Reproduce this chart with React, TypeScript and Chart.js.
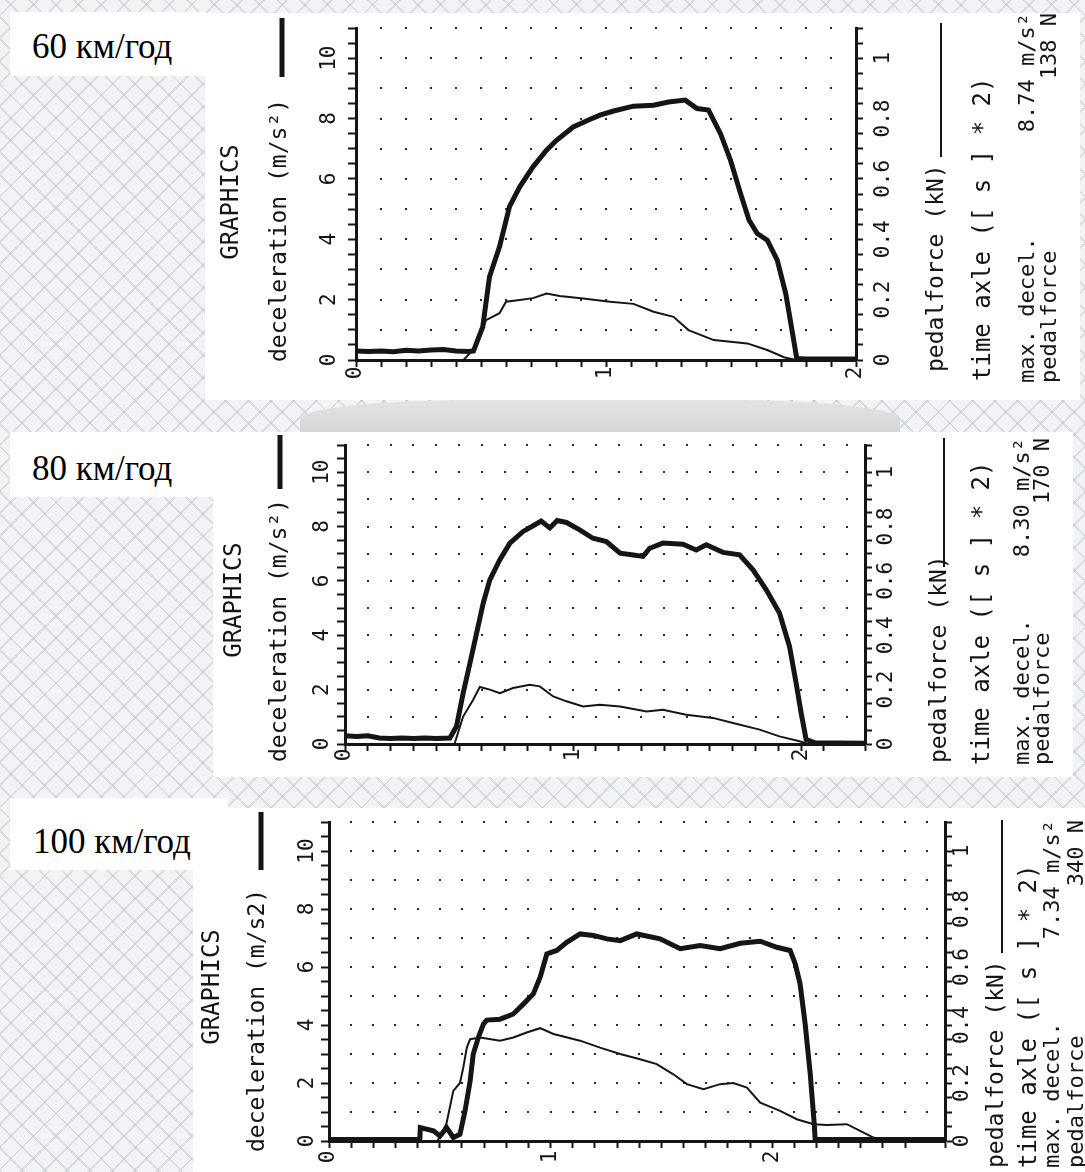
import React, { useEffect, useRef } from 'react';
import { Chart, registerables } from 'chart.js';

Chart.register(...registerables);

const PAGE_W = 1085;
const PAGE_H = 1172;
const INK = '#151515';
const MONO = '"DejaVu Sans Mono", "Liberation Mono", monospace';
const SERIF = '"Liberation Serif", "Times New Roman", serif';

// ---------- shared tick labels ----------
const LEFT_TICK_VALUES = [0, 2, 4, 6, 8, 10];
const LEFT_TICK_LABELS = ['0', '2', '4', '6', '8', '10'];
const RIGHT_TICK_VALUES = [0, 0.2, 0.4, 0.6, 0.8, 1];
const RIGHT_TICK_LABELS = ['0', '0.2', '0.4', '0.6', '0.8', '1'];
const X_TICK_VALUES = [0, 1, 2];
const X_TICK_LABELS = ['0', '1', '2'];
const DOT_ROWS = [1, 2, 3, 4, 5, 6, 7, 8, 9, 10, 11];

const SPEED_LABELS = ['60 км/год', '80 км/год', '100 км/год'];
const MAX_DECEL = ['8.74', '8.30', '7.34'];
const PEDAL_FORCE_N = ['138', '170', '340'];
const DECEL_TITLES = ['deceleration (m/s²)', 'deceleration (m/s²)', 'deceleration (m/s2)'];

// ---------- panel 1 : 60 km/h ----------
const P1_DECEL_TIME = [0, 0.05, 0.1, 0.15, 0.2, 0.25, 0.3, 0.35, 0.4, 0.45, 0.47, 0.507, 0.534, 0.574, 0.614, 0.655, 0.708, 0.762, 0.802, 0.869, 0.93, 0.976, 1.03, 1.11, 1.19, 1.25, 1.317, 1.364, 1.41, 1.458, 1.498, 1.538, 1.572, 1.605, 1.645, 1.685, 1.719, 1.746, 1.763, 1.8, 1.9, 2.0];
const P1_DECEL = [0.3, 0.28, 0.3, 0.27, 0.32, 0.3, 0.33, 0.35, 0.3, 0.28, 0.3, 1.1, 2.76, 3.75, 5.08, 5.74, 6.4, 6.95, 7.28, 7.72, 7.95, 8.11, 8.25, 8.41, 8.44, 8.55, 8.61, 8.33, 8.28, 7.5, 6.62, 5.52, 4.64, 4.19, 3.97, 3.31, 2.2, 0.89, 0.05, 0.03, 0.03, 0.03];
const P1_PEDAL_TIME = [0, 0.43, 0.48, 0.52, 0.574, 0.6, 0.655, 0.708, 0.762, 0.815, 0.909, 1.016, 1.11, 1.19, 1.27, 1.33, 1.431, 1.565, 1.645, 1.712, 1.76, 2.0];
const P1_PEDAL_KN = [0, 0, 0.044, 0.132, 0.155, 0.193, 0.199, 0.205, 0.22, 0.212, 0.204, 0.193, 0.186, 0.16, 0.143, 0.099, 0.066, 0.055, 0.033, 0.009, 0, 0];

// ---------- panel 2 : 80 km/h ----------
const P2_DECEL_TIME = [0, 0.05, 0.1, 0.15, 0.2, 0.25, 0.3, 0.35, 0.4, 0.46, 0.489, 0.518, 0.548, 0.577, 0.606, 0.635, 0.679, 0.723, 0.781, 0.825, 0.86, 0.898, 0.93, 0.971, 1.029, 1.087, 1.146, 1.206, 1.264, 1.307, 1.336, 1.394, 1.482, 1.54, 1.584, 1.657, 1.73, 1.789, 1.847, 1.905, 1.949, 1.978, 2.0, 2.022, 2.06, 2.28];
const P2_DECEL = [0.3, 0.28, 0.3, 0.22, 0.2, 0.22, 0.2, 0.22, 0.2, 0.22, 0.65, 1.87, 2.98, 4.08, 5.18, 6.04, 6.78, 7.39, 7.82, 8.03, 8.2, 7.95, 8.22, 8.15, 7.88, 7.57, 7.45, 7.02, 6.95, 6.9, 7.2, 7.39, 7.35, 7.14, 7.33, 7.05, 6.96, 6.41, 5.67, 4.82, 3.59, 2.24, 1.14, 0.16, 0.05, 0.03];
const P2_PEDAL_TIME = [0, 0.48, 0.518, 0.562, 0.591, 0.635, 0.679, 0.737, 0.81, 0.854, 0.913, 0.971, 1.044, 1.117, 1.206, 1.322, 1.394, 1.496, 1.613, 1.701, 1.818, 1.905, 1.993, 2.03, 2.28];
const P2_PEDAL_KN = [0, 0, 0.101, 0.163, 0.21, 0.2, 0.187, 0.206, 0.218, 0.212, 0.175, 0.157, 0.138, 0.144, 0.138, 0.12, 0.126, 0.108, 0.096, 0.077, 0.053, 0.028, 0.01, 0, 0];

// ---------- panel 3 : 100 km/h ----------
const P3_DECEL_TIME = [0, 0.2, 0.41, 0.412, 0.471, 0.501, 0.531, 0.561, 0.591, 0.614, 0.637, 0.651, 0.674, 0.697, 0.712, 0.772, 0.832, 0.877, 0.922, 0.953, 0.983, 1.028, 1.073, 1.133, 1.193, 1.254, 1.314, 1.389, 1.494, 1.585, 1.675, 1.765, 1.856, 1.946, 2.021, 2.081, 2.104, 2.126, 2.149, 2.172, 2.19, 2.194, 2.4, 2.78];
const P3_DECEL = [0.05, 0.05, 0.05, 0.46, 0.35, 0.17, 0.46, 0.12, 0.23, 1.04, 2.07, 3.0, 3.57, 4.03, 4.17, 4.2, 4.38, 4.72, 5.07, 5.65, 6.45, 6.57, 6.85, 7.14, 7.09, 6.97, 6.91, 7.14, 6.97, 6.63, 6.74, 6.63, 6.82, 6.89, 6.68, 6.57, 6.11, 5.42, 4.03, 2.3, 0.58, 0.05, 0.05, 0.05];
const P3_PEDAL_TIME = [0, 0.49, 0.5, 0.53, 0.561, 0.591, 0.606, 0.622, 0.637, 0.682, 0.772, 0.832, 0.892, 0.953, 1.013, 1.133, 1.223, 1.314, 1.404, 1.479, 1.554, 1.615, 1.69, 1.765, 1.825, 1.886, 1.946, 2.036, 2.111, 2.187, 2.247, 2.337, 2.397, 2.457, 2.518, 2.78];
const P3_PEDAL_KN = [0, 0, 0.015, 0.06, 0.173, 0.2, 0.253, 0.322, 0.351, 0.357, 0.346, 0.357, 0.374, 0.389, 0.369, 0.346, 0.322, 0.3, 0.282, 0.265, 0.23, 0.196, 0.179, 0.196, 0.2, 0.184, 0.132, 0.104, 0.075, 0.058, 0.055, 0.058, 0.035, 0.012, 0, 0];

// ---------- layout (page coordinates) ----------
const PANELS = [
  {
    canvasTop: 0, canvasH: 400,
    area: { left: 356, right: 856, top: 28, bottom: 360 }, xMax: 2,
    decelTime: P1_DECEL_TIME, decel: P1_DECEL, pedalTime: P1_PEDAL_TIME, pedal: P1_PEDAL_KN,
    idx: 0,
    graphics: { x: 232, y: 202 },
    decelTitle: { x: 280, y: 362 }, decelBar: { x: 282, y1: 18, y2: 77 },
    leftTickX: 330, xTickY: 373, rightTickX: 884,
    pedalTitle: { x: 937, y: 372 }, pedalLine: { x: 941, y1: 23, y2: 157 },
    timeAxle: { x: 984, y: 381 },
    stat1X: 1028, stat2X: 1050, statY: 383, statTop: 13,
  },
  {
    canvasTop: 400, canvasH: 390,
    area: { left: 345, right: 865, top: 445, bottom: 744 }, xMax: 2.28,
    decelTime: P2_DECEL_TIME, decel: P2_DECEL, pedalTime: P2_PEDAL_TIME, pedal: P2_PEDAL_KN,
    idx: 1,
    graphics: { x: 235, y: 600 },
    decelTitle: { x: 280, y: 762 }, decelBar: { x: 280, y1: 435, y2: 489 },
    leftTickX: 323, xTickY: 755, rightTickX: 887,
    pedalTitle: { x: 940, y: 763 }, pedalLine: { x: 944, y1: 438, y2: 567 },
    timeAxle: { x: 983, y: 765 },
    stat1X: 1023, stat2X: 1043, statY: 765, statTop: 438,
  },
  {
    canvasTop: 790, canvasH: 382,
    area: { left: 329, right: 945, top: 822, bottom: 1141 }, xMax: 2.78,
    decelTime: P3_DECEL_TIME, decel: P3_DECEL, pedalTime: P3_PEDAL_TIME, pedal: P3_PEDAL_KN,
    idx: 2,
    graphics: { x: 213, y: 987 },
    decelTitle: { x: 258, y: 1152 }, decelBar: { x: 261, y1: 812, y2: 870 },
    leftTickX: 308, xTickY: 1157, rightTickX: 963,
    pedalTitle: { x: 997, y: 1168 }, pedalLine: { x: 1002, y1: 820, y2: 953 },
    timeAxle: { x: 1030, y: 1168 },
    stat1X: 1053, stat2X: 1077, statY: 1168, statTop: 820,
  },
];

const WHITE_RECTS = [
  { left: 205, top: 13, width: 875, height: 387 },
  { left: 213, top: 432, width: 860, height: 345 },
  { left: 193, top: 808, width: 892, height: 364 },
];
const LABEL_BOXES = [
  { left: 10, top: 12, width: 195, height: 64, textLeft: 22, baseline: 58 },
  { left: 10, top: 432, width: 203, height: 65, textLeft: 22, baseline: 480 },
  { left: 10, top: 798, width: 218, height: 72, textLeft: 23, baseline: 853 },
];

function rotText(ctx: CanvasRenderingContext2D, text: string, x: number, y: number, align: CanvasTextAlign, font: string) {
  ctx.save();
  ctx.translate(x, y);
  ctx.rotate(-Math.PI / 2);
  ctx.font = font;
  ctx.fillStyle = INK;
  ctx.textAlign = align;
  ctx.textBaseline = 'middle';
  ctx.fillText(text, 0, 0);
  ctx.restore();
}

function makePlugin(cfg: any) {
  const T = (y: number) => y - cfg.canvasTop;
  return {
    id: 'panelDecor' + cfg.idx,
    beforeDatasetsDraw(chart: any) {
      const ctx = chart.ctx as CanvasRenderingContext2D;
      const xs = chart.scales.x;
      const ys = chart.scales.y;
      ctx.save();
      ctx.fillStyle = '#2b2b2b';
      for (let i = 1; i / 10 < cfg.xMax - 0.02; i++) {
        const px = Math.round(xs.getPixelForValue(i / 10));
        for (const v of DOT_ROWS) {
          const py = Math.round(ys.getPixelForValue(v));
          ctx.fillRect(px - 1, py - 1, 2, 2);
        }
      }
      ctx.restore();
    },
    afterDraw(chart: any) {
      const ctx = chart.ctx as CanvasRenderingContext2D;
      const xs = chart.scales.x;
      const ys = chart.scales.y;
      const y1 = chart.scales.y1;
      const tickFont = `21px ${MONO}`;
      const titleFont = `23px ${MONO}`;
      const statFont = `22px ${MONO}`;

      rotText(ctx, 'GRAPHICS', cfg.graphics.x, T(cfg.graphics.y), 'center', `24px ${MONO}`);
      rotText(ctx, DECEL_TITLES[cfg.idx], cfg.decelTitle.x, T(cfg.decelTitle.y), 'left', titleFont);
      ctx.fillStyle = INK;
      ctx.fillRect(cfg.decelBar.x - 2.5, T(cfg.decelBar.y1), 5, cfg.decelBar.y2 - cfg.decelBar.y1);

      LEFT_TICK_VALUES.forEach((v, i) => {
        rotText(ctx, LEFT_TICK_LABELS[i], cfg.leftTickX, ys.getPixelForValue(v), 'center', tickFont);
      });
      X_TICK_VALUES.forEach((v, i) => {
        rotText(ctx, X_TICK_LABELS[i], xs.getPixelForValue(v), T(cfg.xTickY), 'center', tickFont);
      });
      RIGHT_TICK_VALUES.forEach((v, i) => {
        rotText(ctx, RIGHT_TICK_LABELS[i], cfg.rightTickX, y1.getPixelForValue(v), 'center', tickFont);
      });

      rotText(ctx, 'pedalforce (kN)', cfg.pedalTitle.x, T(cfg.pedalTitle.y), 'left', titleFont);
      ctx.fillStyle = INK;
      ctx.fillRect(cfg.pedalLine.x - 1, T(cfg.pedalLine.y1), 2, cfg.pedalLine.y2 - cfg.pedalLine.y1);

      rotText(ctx, 'time axle ([ s ] * 2)', cfg.timeAxle.x, T(cfg.timeAxle.y), 'left', `24px ${MONO}`);

      rotText(ctx, 'max. decel.', cfg.stat1X, T(cfg.statY), 'left', statFont);
      rotText(ctx, `${MAX_DECEL[cfg.idx]} m/s²`, cfg.stat1X, T(cfg.statTop), 'right', statFont);
      rotText(ctx, 'pedalforce', cfg.stat2X, T(cfg.statY), 'left', statFont);
      rotText(ctx, `${PEDAL_FORCE_N[cfg.idx]} N`, cfg.stat2X, T(cfg.statTop), 'right', statFont);
    },
  };
}

function buildConfig(cfg: any): any {
  const toXY = (xs: number[], ys: number[]) => xs.map((x, i) => ({ x, y: ys[i] }));
  const axisGrid = (len: number) => ({
    display: true,
    drawOnChartArea: false,
    drawTicks: true,
    tickLength: len,
    tickColor: INK,
    tickWidth: 2,
    color: INK,
  });
  const border = { display: true, color: INK, width: 3 };
  return {
    type: 'line',
    data: {
      datasets: [
        {
          label: 'deceleration (m/s²)',
          data: toXY(cfg.decelTime, cfg.decel),
          xAxisID: 'x',
          yAxisID: 'y',
          borderColor: INK,
          borderWidth: 5,
          pointRadius: 0,
          tension: 0,
          fill: false,
          borderJoinStyle: 'miter',
        },
        {
          label: 'pedalforce (kN)',
          data: toXY(cfg.pedalTime, cfg.pedal),
          xAxisID: 'x',
          yAxisID: 'y1',
          borderColor: INK,
          borderWidth: 2,
          pointRadius: 0,
          tension: 0,
          fill: false,
        },
      ],
    },
    options: {
      responsive: false,
      maintainAspectRatio: false,
      animation: false,
      events: [],
      layout: {
        padding: {
          left: cfg.area.left,
          right: PAGE_W - cfg.area.right,
          top: cfg.area.top - cfg.canvasTop,
          bottom: cfg.canvasTop + cfg.canvasH - cfg.area.bottom,
        },
      },
      plugins: {
        legend: { display: false },
        tooltip: { enabled: false },
        title: { display: false },
      },
      scales: {
        x: {
          type: 'linear',
          position: 'bottom',
          min: 0,
          max: cfg.xMax,
          afterFit: (s: any) => { s.height = 0; },
          ticks: { display: false, stepSize: 0.1, maxTicksLimit: 1000, autoSkip: false },
          grid: axisGrid(7),
          border,
        },
        y: {
          type: 'linear',
          position: 'left',
          min: 0,
          max: 11,
          afterFit: (s: any) => { s.width = 0; },
          ticks: { display: false, stepSize: 0.5, maxTicksLimit: 1000, autoSkip: false },
          grid: axisGrid(8),
          border,
        },
        y1: {
          type: 'linear',
          position: 'right',
          min: 0,
          max: 1.1,
          afterFit: (s: any) => { s.width = 0; },
          ticks: { display: false, stepSize: 0.05, maxTicksLimit: 1000, autoSkip: false },
          grid: axisGrid(7),
          border,
        },
      },
    },
    plugins: [makePlugin(cfg)],
  };
}

function Panel({ cfg }: { cfg: any }) {
  const ref = useRef<HTMLCanvasElement>(null);
  useEffect(() => {
    const canvas = ref.current;
    if (!canvas) return;
    const chart = new Chart(canvas, buildConfig(cfg));
    return () => chart.destroy();
  }, [cfg]);
  return (
    <canvas
      ref={ref}
      width={PAGE_W}
      height={cfg.canvasH}
      style={{ position: 'absolute', left: 0, top: cfg.canvasTop, width: PAGE_W, height: cfg.canvasH, zIndex: 2 }}
    />
  );
}

export default function App() {
  return (
    <div
      style={{
        position: 'absolute',
        left: 0,
        top: 0,
        width: PAGE_W,
        height: PAGE_H,
        overflow: 'hidden',
        backgroundColor: '#f1f3f5',
        backgroundImage:
          'repeating-linear-gradient(45deg, rgba(160,170,180,0.28) 0px, rgba(160,170,180,0.28) 2px, transparent 2px, transparent 16px), repeating-linear-gradient(-45deg, rgba(160,170,180,0.28) 0px, rgba(160,170,180,0.28) 2px, transparent 2px, transparent 16px)',
      }}
    >
      {WHITE_RECTS.map((r, i) => (
        <div key={'w' + i} style={{ position: 'absolute', left: r.left, top: r.top, width: r.width, height: r.height, background: '#ffffff', zIndex: 1 }} />
      ))}
      <div style={{ position: 'absolute', left: 300, top: 400, width: 600, height: 32, background: 'linear-gradient(#e3e3e3, #d6d6d6)', borderRadius: '30% 30% 0 0 / 60% 60% 0 0', zIndex: 1 }} />
      {PANELS.map((p, i) => (
        <Panel key={'p' + i} cfg={p} />
      ))}
      {LABEL_BOXES.map((b, i) => (
        <div key={'l' + i} style={{ position: 'absolute', left: b.left, top: b.top, width: b.width, height: b.height, background: '#ffffff', zIndex: 3 }}>
          <div
            style={{
              position: 'absolute',
              left: b.textLeft,
              top: b.baseline - b.top - 29.3,
              fontFamily: SERIF,
              fontSize: 35,
              lineHeight: '35px',
              color: '#000',
              whiteSpace: 'nowrap',
            }}
          >
            {SPEED_LABELS[i]}
          </div>
        </div>
      ))}
    </div>
  );
}
